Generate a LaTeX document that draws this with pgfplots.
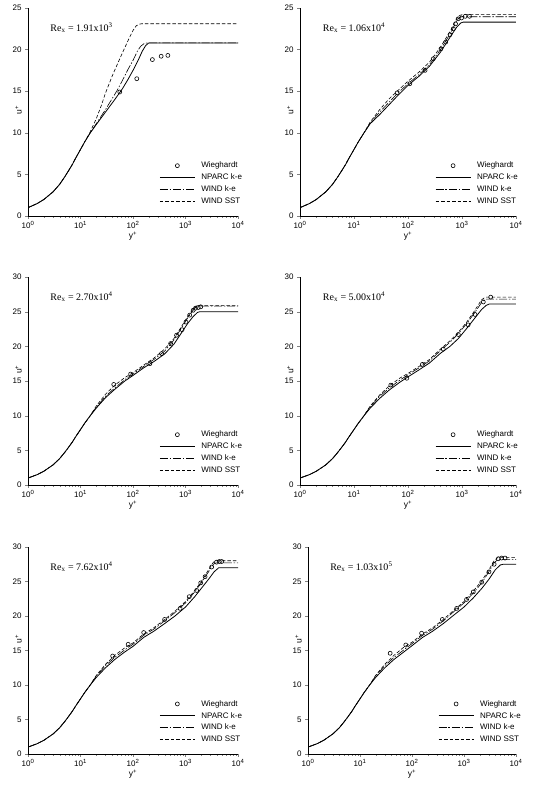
\documentclass[border=0pt]{standalone}
\usepackage{fontspec}
\setmainfont{Liberation Sans}
\newfontfamily\timesf{Liberation Serif}
\usepackage{pgfplots}
\pgfplotsset{compat=1.18}

\pgfplotsset{
  /pgf/number format/assume math mode=true,
  legend image code/.code={\draw[mark repeat=2,mark phase=2,#1] plot coordinates {(0pt,0pt) (17.5pt,0pt) (35pt,0pt)};},
  uplusaxis/.style={
    scale only axis,
    xmin=1, xmax=10000, ymin=0,
    axis lines*=left,
    axis line style={line width=0.6pt},
    tick align=outside,
    major tick length=3pt, minor tick length=1.8pt,
    xtick={1,10,100,1000,10000},
    xticklabels={10\textsuperscript{0},10\textsuperscript{1},10\textsuperscript{2},10\textsuperscript{3},10\textsuperscript{4}},
    minor xtick={2,3,4,5,6,7,8,9,20,30,40,50,60,70,80,90,200,300,400,500,600,700,800,900,2000,3000,4000,5000,6000,7000,8000,9000},
    tick label style={font=\fontsize{8}{9}\selectfont},
    xticklabel style={yshift=1pt},
    xlabel={y\textsuperscript{+}}, ylabel={u\textsuperscript{+}},
    label style={font=\fontsize{8.5}{10}\selectfont},
    xlabel style={at={(axis description cs:0.5,-0.097)}, anchor=center},
    legend style={at={(0.625,0.27)}, anchor=north west, draw=none, fill=none,
      font=\fontsize{8}{9}\selectfont, row sep=0.6pt, column sep=4pt, inner sep=0pt},
    legend cell align=left,
  },
}
\tikzset{
  nparc/.style={black, line width=0.8pt},
  windke/.style={black, line width=0.6pt, dash pattern=on 8pt off 1.8pt on 1.5pt off 1.8pt},
  windsst/.style={black, line width=0.6pt, dash pattern=on 3.5pt off 2pt},
  wieg/.style={black, mark=o, mark size=2pt, mark options={line width=0.6pt}},
}

\begin{document}
\begin{tikzpicture}
\useasboundingbox (0,0) rectangle (535pt,786pt);

% Re_x = 1.91x10^3
\begin{semilogxaxis}[uplusaxis, at={(28pt,570pt)}, anchor=south west, width=210pt, height=208pt,
  ymax=25, ytick={0,5,10,15,20,25},
  ylabel style={at={(axis description cs:-0.045,0.51)}, anchor=center}]
\addplot[wieg, only marks] coordinates {(56,14.9) (118,16.5) (234,18.8) (344,19.2) (461,19.3)};
\addplot[nparc, no marks] coordinates {(1,1.0) (1.5,1.5) (2,1.98) (3,2.9) (4,3.8) (5,4.7) (6,5.5) (7,6.2) (8,6.9) (10,8.0) (12,8.9) (15,9.9)
  (20,11.0) (30,12.5) (45,14.0) (63,15.3) (80,16.4) (100,17.5) (125,18.7) (150,19.8) (175,20.5) (200,20.8) (10000,20.8)};
\addplot[windke, no marks] coordinates {(1,1.0) (1.5,1.5) (2,1.98) (3,2.9) (4,3.8) (5,4.7) (6,5.5) (7,6.2) (8,6.9) (10,8.0) (12,8.9) (15,9.9)
  (20,11.1) (30,12.8) (40,14.1) (50,15.1) (63,16.3) (80,17.6) (100,18.7) (121,19.8) (140,20.4) (165,20.75) (190,20.8) (10000,20.8)};
\addplot[windsst, no marks] coordinates {(1,1.0) (1.5,1.5) (2,1.98) (3,2.9) (4,3.8) (5,4.7) (6,5.5) (7,6.2) (8,6.9) (10,8.0) (12,8.9)
  (15,10.0) (20,11.7) (25,13.3) (30,14.8) (40,16.8) (50,18.2) (66,19.9) (85,21.4) (100,22.3) (115,22.85) (130,23.05) (145,23.1) (10000,23.1)};
\legend{Wieghardt, NPARC k-e, WIND k-e, WIND SST}
\node[anchor=west, font=\timesf\fontsize{10}{12}\selectfont] at (rel axis cs:0.09,0.905) {Re\textsubscript{x} = 1.91x10\textsuperscript{3}};
\end{semilogxaxis}

% Re_x = 1.06x10^4
\begin{semilogxaxis}[uplusaxis, at={(300pt,570pt)}, anchor=south west, width=216pt, height=208pt,
  ymax=25, ytick={0,5,10,15,20,25},
  ylabel style={at={(axis description cs:-0.045,0.51)}, anchor=center}]
\addplot[wieg, only marks] coordinates {(63,14.8) (108,15.9) (207,17.5) (294,18.9) (408,20.1) (499,20.9) (600,21.8) (692,22.5) (760,23.1) (850,23.7) (980,23.8) (1150,24.0) (1380,24.0)};
\addplot[nparc, no marks] coordinates {(1,1.0) (1.5,1.5) (2,1.98) (3,2.9) (4,3.8) (5,4.7) (6,5.5) (7,6.2) (8,6.9) (10,8.0) (12,8.9) (15,9.9)
  (20,11.1) (30,12.2) (45,13.4) (63,14.4) (100,15.7) (160,16.8) (250,18.0) (400,19.7) (630,21.7) (800,22.7) (950,23.2) (1050,23.3) (10000,23.3)};
\addplot[windke, no marks] coordinates {(1,1.0) (1.5,1.5) (2,1.98) (3,2.9) (4,3.8) (5,4.7) (6,5.5) (7,6.2) (8,6.9) (10,8.0) (12,8.9) (15,9.9)
  (20,11.2) (30,12.5) (45,13.7) (63,14.7) (100,15.9) (160,17.0) (250,18.2) (400,20.0) (630,22.1) (760,23.2) (870,23.8) (1000,23.95) (10000,23.95)};
\addplot[windsst, no marks] coordinates {(1,1.0) (1.5,1.5) (2,1.98) (3,2.9) (4,3.8) (5,4.7) (6,5.5) (7,6.2) (8,6.9) (10,8.0) (12,8.9) (15,9.9)
  (20,11.3) (30,12.8) (45,14.1) (63,15.0) (100,16.2) (160,17.3) (250,18.5) (400,20.3) (630,22.4) (760,23.5) (870,24.05) (1000,24.2) (10000,24.2)};
\legend{Wieghardt, NPARC k-e, WIND k-e, WIND SST}
\node[anchor=west, font=\timesf\fontsize{10}{12}\selectfont] at (rel axis cs:0.09,0.905) {Re\textsubscript{x} = 1.06x10\textsuperscript{4}};
\end{semilogxaxis}

% Re_x = 2.70x10^4
\begin{semilogxaxis}[uplusaxis, at={(28pt,301pt)}, anchor=south west, width=210pt, height=208pt,
  ymax=30, ytick={0,5,10,15,20,25,30},
  ylabel style={at={(axis description cs:-0.045,0.555)}, anchor=center}]
\addplot[wieg, only marks] coordinates {(43,14.5) (90,16.0) (210,17.5) (350,18.95) (520,20.4) (675,21.6) (860,22.4) (1020,23.5) (1200,24.5) (1400,25.2) (1550,25.5) (1750,25.6) (1950,25.7)};
\addplot[nparc, no marks] coordinates {(1,1.0) (1.5,1.5) (2,1.98) (3,2.9) (4,3.8) (5,4.7) (6,5.5) (7,6.2) (8,6.9) (10,8.0) (12,8.9) (15,9.9)
  (20,11.1) (30,12.6) (45,13.8) (70,15.0) (100,15.8) (160,16.9) (250,17.8) (400,18.9) (600,20.3) (830,21.9) (1100,23.3) (1400,24.3) (1700,24.9) (1900,25.0) (10000,25.0)};
\addplot[windke, no marks] coordinates {(1,1.0) (1.5,1.5) (2,1.98) (3,2.9) (4,3.8) (5,4.7) (6,5.5) (7,6.2) (8,6.9) (10,8.0) (12,8.9) (15,9.9)
  (20,11.2) (30,12.8) (45,14.0) (70,15.2) (100,16.0) (160,17.1) (250,18.1) (400,19.3) (600,20.9) (830,22.6) (1100,24.1) (1400,25.2) (1600,25.7) (1800,25.8) (10000,25.8)};
\addplot[windsst, no marks] coordinates {(1,1.0) (1.5,1.5) (2,1.98) (3,2.9) (4,3.8) (5,4.7) (6,5.5) (7,6.2) (8,6.9) (10,8.0) (12,8.9) (15,9.9)
  (20,11.4) (30,13.1) (45,14.4) (70,15.5) (100,16.2) (160,17.3) (250,18.3) (400,19.6) (600,21.1) (830,22.8) (1100,24.3) (1400,25.4) (1600,25.8) (1800,25.9) (10000,25.9)};
\legend{Wieghardt, NPARC k-e, WIND k-e, WIND SST}
\node[anchor=west, font=\timesf\fontsize{10}{12}\selectfont] at (rel axis cs:0.09,0.905) {Re\textsubscript{x} = 2.70x10\textsuperscript{4}};
\end{semilogxaxis}

% Re_x = 5.00x10^4
\begin{semilogxaxis}[uplusaxis, at={(300pt,301pt)}, anchor=south west, width=216pt, height=208pt,
  ymax=30, ytick={0,5,10,15,20,25,30},
  ylabel style={at={(axis description cs:-0.045,0.555)}, anchor=center}]
\addplot[wieg, only marks] coordinates {(48,14.4) (95,15.4) (185,17.4) (450,19.6) (855,21.7) (1300,23.1) (1740,24.6) (2480,26.4) (3400,27.1)};
\addplot[nparc, no marks] coordinates {(1,1.0) (1.5,1.5) (2,1.98) (3,2.9) (4,3.8) (5,4.7) (6,5.5) (7,6.2) (8,6.9) (10,8.0) (12,8.9) (15,9.9)
  (20,11.1) (30,12.5) (45,13.7) (70,14.8) (100,15.6) (160,16.6) (250,17.6) (400,19.0) (600,20.0) (850,21.1) (1200,22.5) (1700,24.0) (2300,25.3) (2800,25.9) (3200,26.1) (10000,26.1)};
\addplot[windke, no marks] coordinates {(1,1.0) (1.5,1.5) (2,1.98) (3,2.9) (4,3.8) (5,4.7) (6,5.5) (7,6.2) (8,6.9) (10,8.0) (12,8.9) (15,9.9)
  (20,11.3) (30,12.8) (45,14.0) (70,15.1) (100,15.9) (160,16.9) (250,17.9) (400,19.4) (600,20.6) (850,21.8) (1200,23.2) (1700,24.8) (2300,26.3) (2700,26.8) (10000,26.8)};
\addplot[windsst, no marks] coordinates {(1,1.0) (1.5,1.5) (2,1.98) (3,2.9) (4,3.8) (5,4.7) (6,5.5) (7,6.2) (8,6.9) (10,8.0) (12,8.9) (15,9.9)
  (20,11.4) (30,13.0) (45,14.3) (70,15.4) (100,16.1) (160,17.1) (250,18.1) (400,19.6) (600,20.8) (850,22.0) (1200,23.4) (1700,25.1) (2300,26.7) (2700,27.1) (10000,27.1)};
\legend{Wieghardt, NPARC k-e, WIND k-e, WIND SST}
\node[anchor=west, font=\timesf\fontsize{10}{12}\selectfont] at (rel axis cs:0.09,0.905) {Re\textsubscript{x} = 5.00x10\textsuperscript{4}};
\end{semilogxaxis}

% Re_x = 7.62x10^4
\begin{semilogxaxis}[uplusaxis, at={(28pt,32pt)}, anchor=south west, width=210pt, height=207pt,
  ymax=30, ytick={0,5,10,15,20,25,30},
  ylabel style={at={(axis description cs:-0.045,0.555)}, anchor=center}]
\addplot[wieg, only marks] coordinates {(41,14.2) (81,15.9) (160,17.6) (400,19.5) (790,21.1) (1180,22.8) (1630,23.7) (1950,24.8) (2360,25.7) (3150,27.1) (3900,27.8) (4400,27.9) (4900,27.9)};
\addplot[nparc, no marks] coordinates {(1,1.0) (1.5,1.5) (2,1.98) (3,2.9) (4,3.8) (5,4.7) (6,5.5) (7,6.2) (8,6.9) (10,8.0) (12,8.9) (15,9.9)
  (20,11.1) (30,12.5) (45,13.7) (70,14.8) (100,15.6) (160,16.9) (250,17.8) (400,18.9) (630,20.0) (1000,21.3) (1500,22.8) (2000,24.0) (2800,25.4) (3500,26.4) (4300,27.0) (10000,27.0)};
\addplot[windke, no marks] coordinates {(1,1.0) (1.5,1.5) (2,1.98) (3,2.9) (4,3.8) (5,4.7) (6,5.5) (7,6.2) (8,6.9) (10,8.0) (12,8.9) (15,9.9)
  (20,11.3) (30,12.8) (45,14.0) (70,15.1) (100,15.9) (160,17.2) (250,18.1) (400,19.3) (630,20.5) (1000,21.9) (1500,23.5) (2000,24.8) (2800,26.5) (3400,27.5) (3800,27.7) (10000,27.7)};
\addplot[windsst, no marks] coordinates {(1,1.0) (1.5,1.5) (2,1.98) (3,2.9) (4,3.8) (5,4.7) (6,5.5) (7,6.2) (8,6.9) (10,8.0) (12,8.9) (15,9.9)
  (20,11.4) (30,13.0) (45,14.3) (70,15.4) (100,16.1) (160,17.4) (250,18.3) (400,19.5) (630,20.7) (1000,22.1) (1500,23.7) (2000,25.0) (2800,26.8) (3400,27.8) (3800,28.0) (10000,28.0)};
\legend{Wieghardt, NPARC k-e, WIND k-e, WIND SST}
\node[anchor=west, font=\timesf\fontsize{10}{12}\selectfont] at (rel axis cs:0.09,0.905) {Re\textsubscript{x} = 7.62x10\textsuperscript{4}};
\end{semilogxaxis}

% Re_x = 1.03x10^5
\begin{semilogxaxis}[uplusaxis, at={(308pt,32pt)}, anchor=south west, width=208pt, height=207pt,
  ymax=30, ytick={0,5,10,15,20,25,30},
  ylabel style={at={(axis description cs:-0.045,0.555)}, anchor=center}]
\addplot[wieg, only marks] coordinates {(38,14.6) (76,15.8) (153,17.5) (383,19.5) (723,21.1) (1120,22.4) (1510,23.5) (2190,24.9) (3020,26.4) (3800,27.5) (4570,28.3) (5300,28.4) (6150,28.4)};
\addplot[nparc, no marks] coordinates {(1,1.0) (1.5,1.5) (2,1.98) (3,2.9) (4,3.8) (5,4.7) (6,5.5) (7,6.2) (8,6.9) (10,8.0) (12,8.9) (15,9.9)
  (20,11.1) (30,12.5) (45,13.7) (70,14.8) (100,15.7) (160,16.9) (250,17.8) (400,18.9) (630,20.1) (1000,21.3) (1500,22.6) (2200,24.0) (3000,25.3) (4000,26.7) (5000,27.4) (5700,27.5) (10000,27.5)};
\addplot[windke, no marks] coordinates {(1,1.0) (1.5,1.5) (2,1.98) (3,2.9) (4,3.8) (5,4.7) (6,5.5) (7,6.2) (8,6.9) (10,8.0) (12,8.9) (15,9.9)
  (20,11.3) (30,12.8) (45,14.0) (70,15.1) (100,16.0) (160,17.2) (250,18.1) (400,19.3) (630,20.6) (1000,21.9) (1500,23.3) (2200,24.8) (3000,26.4) (3800,27.7) (4500,28.2) (10000,28.2)};
\addplot[windsst, no marks] coordinates {(1,1.0) (1.5,1.5) (2,1.98) (3,2.9) (4,3.8) (5,4.7) (6,5.5) (7,6.2) (8,6.9) (10,8.0) (12,8.9) (15,9.9)
  (20,11.4) (30,13.0) (45,14.3) (70,15.5) (100,16.2) (160,17.4) (250,18.3) (400,19.5) (630,20.8) (1000,22.1) (1500,23.6) (2200,25.1) (3000,26.7) (3800,28.0) (4500,28.5) (10000,28.5)};
\legend{Wieghardt, NPARC k-e, WIND k-e, WIND SST}
\node[anchor=west, font=\timesf\fontsize{10}{12}\selectfont] at (rel axis cs:0.09,0.905) {Re\textsubscript{x} = 1.03x10\textsuperscript{5}};
\end{semilogxaxis}
\end{tikzpicture}
\end{document}
